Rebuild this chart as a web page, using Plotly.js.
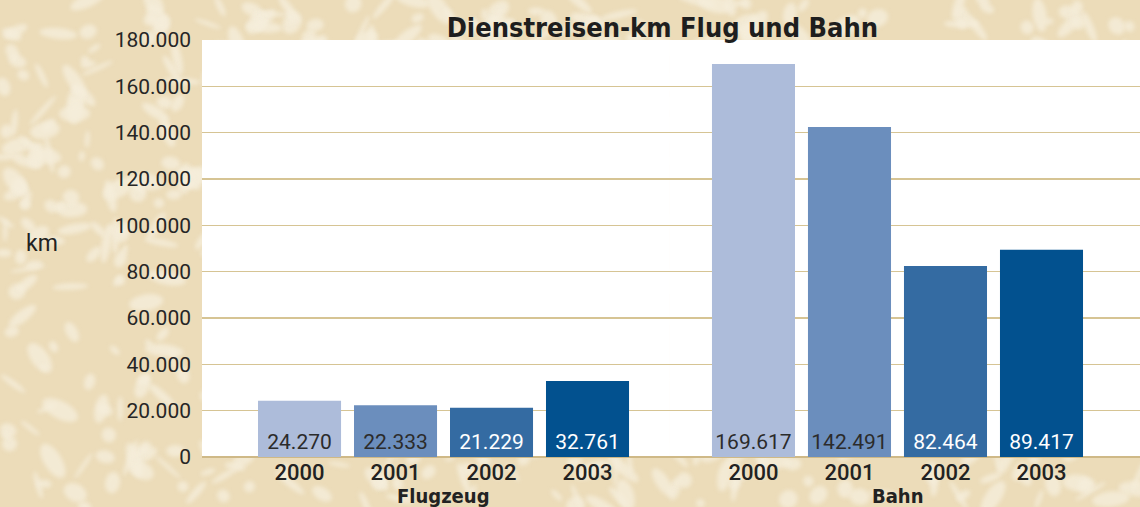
<!DOCTYPE html>
<html>
<head>
<meta charset="utf-8">
<script src="https://cdn.plot.ly/plotly-3.0.1.min.js"></script>
<style>
html,body{margin:0;padding:0;background:#eddfbf;}
#chart{width:1140px;height:507px;}
</style>
</head>
<body>
<div id="chart"></div>
<script>
// ---- data ----
var years = ['2000', '2001', '2002', '2003'];
var groups = ['Flugzeug', 'Bahn'];
var flugzeug = [24270, 22333, 21229, 32761];
var bahn = [169617, 142491, 82464, 89417];
var yTicks = [0, 20000, 40000, 60000, 80000, 100000, 120000, 140000, 160000, 180000];

var barColors = ['#adbcda', '#6b8ebd', '#346ba2', '#02518f'];
var textColors = ['#2b2b2b', '#2b2b2b', '#ffffff', '#ffffff'];

// ---- decorative paper texture (background only) ----
(function () {
  var c = document.createElement('canvas');
  c.width = 1140; c.height = 507;
  var g = c.getContext('2d');
  g.fillStyle = '#ecdcb9';
  g.fillRect(0, 0, c.width, c.height);
  var s = 987654;
  function rnd() { s = (s * 1103515245 + 12345) % 2147483648; return s / 2147483648; }
  g.filter = 'blur(2px)';
  g.fillStyle = 'rgba(245,237,219,0.8)';
  for (var i = 0; i < 900; i++) {
    var x = rnd() * 1140, y = rnd() * 507;
    var rx = 4 + rnd() * 16, ry = 2 + rnd() * 7;
    g.beginPath();
    g.ellipse(x, y, rx, ry, rnd() * Math.PI, 0, Math.PI * 2);
    g.fill();
  }
  document.body.style.backgroundImage = 'url(' + c.toDataURL() + ')';
})();

var tickFont = {family: 'Roboto, sans-serif', size: 21, color: '#262626'};
var boldFont = '"DejaVu Sans Condensed", "DejaVu Sans", sans-serif';
var gridColor = '#d6c494';

function barTrace(values, xa, ya) {
  return {
    type: 'bar',
    x: years,
    y: values,
    xaxis: xa,
    yaxis: ya,
    marker: {color: barColors, line: {width: 0}},
    texttemplate: '%{y:,d}',
    textposition: 'inside',
    insidetextanchor: 'start',
    textangle: 0,
    constraintext: 'none',
    textfont: {family: 'Roboto, sans-serif', size: 21, color: textColors},
    hoverinfo: 'skip',
    showlegend: false
  };
}

var data = [barTrace(flugzeug, 'x', 'y'), barTrace(bahn, 'x2', 'y2')];

var split = 0.4989;
var xCommon = {
  type: 'category',
  showgrid: false,
  zeroline: false,
  showline: false,
  ticks: '',
  tickfont: {family: 'Roboto, sans-serif', size: 22, color: '#222222', weight: 500},
  fixedrange: true
};
var yCommon = {
  range: [0, 180000],
  tickvals: yTicks,
  tickformat: ',d',
  showgrid: true,
  gridcolor: gridColor,
  gridwidth: 1.5,
  zeroline: true,
  zerolinecolor: '#cfb987',
  zerolinewidth: 2.5,
  showline: false,
  ticks: '',
  ticklabelstandoff: 10,
  fixedrange: true
};

var layout = {
  width: 1140,
  height: 507,
  margin: {l: 202, r: 0, t: 40, b: 50},
  paper_bgcolor: 'rgba(0,0,0,0)',
  plot_bgcolor: '#ffffff',
  separators: ',.',
  bargap: 0.135,
  title: {
    text: 'Dienstreisen-km Flug und Bahn',
    font: {family: boldFont, size: 27, color: '#1e1e1e', weight: 'bold'},
    x: 0.581, xanchor: 'center',
    y: 0.945, yanchor: 'middle'
  },
  xaxis: Object.assign({}, xCommon, {domain: [0, split], range: [-1.016, 3.859], anchor: 'y'}),
  xaxis2: Object.assign({}, xCommon, {domain: [split, 1], range: [-0.870, 4.026], anchor: 'y2'}),
  yaxis: Object.assign({}, yCommon, {anchor: 'x', tickfont: tickFont}),
  yaxis2: Object.assign({}, yCommon, {anchor: 'x2', showticklabels: false, matches: 'y'}),
  annotations: [
    {text: groups[0], xref: 'x', yref: 'paper', x: 1.5, y: -0.094, yanchor: 'middle', showarrow: false,
     font: {family: boldFont, size: 20, color: '#222222', weight: 'bold'}},
    {text: groups[1], xref: 'x2', yref: 'paper', x: 1.5, y: -0.094, yanchor: 'middle', showarrow: false,
     font: {family: boldFont, size: 20, color: '#222222', weight: 'bold'}},
    {text: 'km', xref: 'paper', yref: 'paper', x: -0.171, y: 0.513, xanchor: 'center', yanchor: 'middle', showarrow: false,
     font: {family: 'Roboto, sans-serif', size: 23, color: '#222222'}}
  ]
};

Plotly.newPlot('chart', data, layout, {displayModeBar: false, staticPlot: true});
</script>
</body>
</html>
